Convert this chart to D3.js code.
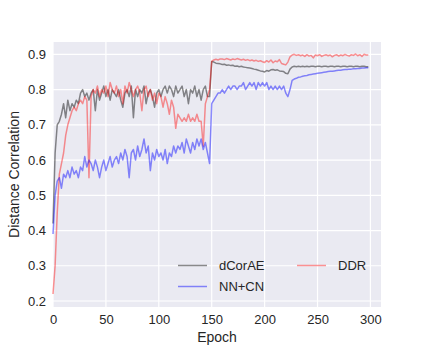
<!DOCTYPE html>
<html>
<head>
<meta charset="utf-8">
<script src="https://cdn.jsdelivr.net/npm/d3@7"></script>
<style>
  body { margin: 0; background: #fff; }
  text { font-family: "Liberation Sans", Arial, sans-serif; fill: #262626; }
</style>
</head>
<body>
<script>
// one value every 2 epochs (0, 2, ..., 298)
var epochStep = 2;

var dcorae = [
  0.42, 0.62, 0.70, 0.71, 0.73, 0.76, 0.72, 0.77, 0.74, 0.76,
  0.75, 0.77, 0.76, 0.79, 0.80, 0.78, 0.79, 0.77, 0.79, 0.80,
  0.74, 0.80, 0.77, 0.79, 0.81, 0.78, 0.80, 0.77, 0.80, 0.79,
  0.78, 0.80, 0.77, 0.75, 0.79, 0.80, 0.78, 0.81, 0.72, 0.80,
  0.78, 0.80, 0.79, 0.81, 0.76, 0.79, 0.80, 0.78, 0.75, 0.79,
  0.80, 0.78, 0.80, 0.81, 0.79, 0.81, 0.80, 0.78, 0.81, 0.79,
  0.80, 0.81, 0.78, 0.80, 0.76, 0.80, 0.79, 0.81, 0.78, 0.80,
  0.77, 0.80, 0.81, 0.78, 0.78, 0.880, 0.878, 0.875, 0.874, 0.873,
  0.871, 0.872, 0.869, 0.870, 0.868, 0.869, 0.866, 0.867, 0.865, 0.866,
  0.864, 0.863, 0.862, 0.861, 0.860, 0.858, 0.857, 0.855, 0.853, 0.852,
  0.850, 0.854, 0.852, 0.856, 0.857, 0.855, 0.856, 0.853, 0.852, 0.851,
  0.846, 0.845, 0.858, 0.864, 0.866, 0.865, 0.866, 0.865, 0.866, 0.865,
  0.866, 0.865, 0.866, 0.866, 0.865, 0.866, 0.866, 0.865, 0.866, 0.866,
  0.865, 0.866, 0.866, 0.865, 0.866, 0.866, 0.865, 0.866, 0.866, 0.865,
  0.866, 0.866, 0.865, 0.866, 0.866, 0.865, 0.866, 0.866, 0.865, 0.865
];

var ddr = [
  0.22, 0.30, 0.45, 0.56, 0.59, 0.62, 0.67, 0.70, 0.72, 0.74,
  0.75, 0.74, 0.76, 0.77, 0.76, 0.78, 0.77, 0.55, 0.78, 0.80,
  0.79, 0.81, 0.78, 0.80, 0.79, 0.81, 0.78, 0.82, 0.80, 0.79,
  0.81, 0.78, 0.80, 0.76, 0.81, 0.79, 0.82, 0.80, 0.78, 0.80,
  0.81, 0.79, 0.74, 0.80, 0.81, 0.78, 0.80, 0.77, 0.79, 0.76,
  0.79, 0.78, 0.75, 0.78, 0.76, 0.73, 0.77, 0.75, 0.69, 0.73,
  0.72, 0.71, 0.72, 0.71, 0.73, 0.71, 0.72, 0.71, 0.73, 0.71,
  0.71, 0.64, 0.76, 0.78, 0.80, 0.880, 0.884, 0.886, 0.884, 0.887,
  0.887, 0.885, 0.888, 0.886, 0.884, 0.887, 0.885, 0.888, 0.886, 0.884,
  0.886, 0.883, 0.885, 0.882, 0.884, 0.881, 0.883, 0.880, 0.882, 0.879,
  0.877, 0.882, 0.878, 0.884, 0.876, 0.881, 0.879, 0.885, 0.874, 0.872,
  0.870, 0.878, 0.893, 0.898, 0.900, 0.897, 0.899, 0.896, 0.898, 0.894,
  0.899, 0.895, 0.897, 0.890, 0.898, 0.896, 0.899, 0.894, 0.897, 0.899,
  0.896, 0.898, 0.893, 0.897, 0.899, 0.895, 0.898, 0.896, 0.900, 0.897,
  0.895, 0.899, 0.897, 0.901, 0.896, 0.899, 0.894, 0.900, 0.898, 0.898
];

var nncn = [
  0.39, 0.50, 0.54, 0.55, 0.52, 0.56, 0.55, 0.57, 0.55, 0.58,
  0.56, 0.57, 0.55, 0.58, 0.57, 0.61, 0.58, 0.60, 0.59, 0.57,
  0.60, 0.58, 0.55, 0.58, 0.60, 0.57, 0.59, 0.61, 0.58, 0.60,
  0.61, 0.59, 0.62, 0.60, 0.63, 0.61, 0.55, 0.62, 0.63, 0.60,
  0.64, 0.61, 0.63, 0.66, 0.62, 0.64, 0.57, 0.62, 0.60, 0.63,
  0.61, 0.62, 0.60, 0.63, 0.59, 0.62, 0.61, 0.64, 0.62, 0.64,
  0.63, 0.65, 0.62, 0.66, 0.64, 0.62, 0.65, 0.63, 0.66, 0.64,
  0.66, 0.63, 0.65, 0.62, 0.59, 0.76, 0.77, 0.78, 0.79, 0.79,
  0.80, 0.79, 0.80, 0.81, 0.80, 0.81, 0.81, 0.80, 0.81, 0.81,
  0.82, 0.80, 0.81, 0.82, 0.81, 0.82, 0.80, 0.82, 0.81, 0.82,
  0.81, 0.82, 0.80, 0.81, 0.80, 0.81, 0.80, 0.81, 0.80, 0.81,
  0.79, 0.78, 0.80, 0.826, 0.830, 0.832, 0.835, 0.836, 0.838, 0.839,
  0.840, 0.842, 0.843, 0.844, 0.845, 0.846, 0.847, 0.848, 0.849, 0.850,
  0.851, 0.852, 0.852, 0.853, 0.854, 0.855, 0.855, 0.856, 0.857, 0.857,
  0.858, 0.858, 0.859, 0.859, 0.860, 0.860, 0.861, 0.861, 0.862, 0.862
];

var xTicks = [0, 50, 100, 150, 200, 250, 300];
var yTicks = [0.2, 0.3, 0.4, 0.5, 0.6, 0.7, 0.8, 0.9];

var series = [
  { name: "dCorAE", values: dcorae, color: "#000", opacity: 0.45 },
  { name: "DDR",    values: ddr,    color: "#f00", opacity: 0.42 },
  { name: "NN+CN",  values: nncn,   color: "#00f", opacity: 0.45 }
];

var width = 423, height = 351;
var margin = { left: 53, right: 42, top: 42, bottom: 44 };

var svg = d3.select("body").append("svg")
    .attr("width", width)
    .attr("height", height);

var x = d3.scaleLinear().domain([0, 310]).range([margin.left, width - margin.right]);
var y = d3.scaleLinear().domain([0.183, 0.935]).range([height - margin.bottom, margin.top]);

svg.append("rect")
   .attr("x", margin.left).attr("y", margin.top)
   .attr("width", width - margin.left - margin.right)
   .attr("height", height - margin.top - margin.bottom)
   .attr("fill", "#eaeaf2");

// grid
svg.append("g").selectAll("line").data(xTicks).enter().append("line")
   .attr("x1", function(d) { return x(d); }).attr("x2", function(d) { return x(d); })
   .attr("y1", margin.top).attr("y2", height - margin.bottom)
   .attr("stroke", "#fff").attr("stroke-width", 1.2);
svg.append("g").selectAll("line").data(yTicks).enter().append("line")
   .attr("y1", function(d) { return y(d); }).attr("y2", function(d) { return y(d); })
   .attr("x1", margin.left).attr("x2", width - margin.right)
   .attr("stroke", "#fff").attr("stroke-width", 1.2);

// axes (labels only, seaborn darkgrid look)
var xAxis = svg.append("g")
   .attr("transform", "translate(0," + (height - margin.bottom) + ")")
   .call(d3.axisBottom(x).tickValues(xTicks).tickSize(0).tickPadding(8));
var yAxis = svg.append("g")
   .attr("transform", "translate(" + margin.left + ",0)")
   .call(d3.axisLeft(y).tickValues(yTicks).tickFormat(d3.format(".1f")).tickSize(0).tickPadding(7));
[xAxis, yAxis].forEach(function(a) {
  a.select(".domain").remove();
  a.selectAll("text").attr("font-size", 13).attr("fill", "#262626")
   .attr("font-family", "Liberation Sans, Arial, sans-serif");
});

var line = d3.line()
   .x(function(d, i) { return x(i * epochStep); })
   .y(function(d) { return y(d); });

svg.append("g").selectAll("path").data(series).enter().append("path")
   .attr("d", function(s) { return line(s.values); })
   .attr("fill", "none")
   .attr("stroke", function(s) { return s.color; })
   .attr("stroke-opacity", function(s) { return s.opacity; })
   .attr("stroke-width", 1.5)
   .attr("stroke-linejoin", "round");

svg.append("text")
   .attr("x", (margin.left + width - margin.right) / 2)
   .attr("y", 342)
   .attr("text-anchor", "middle")
   .attr("font-size", 14)
   .text("Epoch");

svg.append("text")
   .attr("transform", "translate(19," + ((margin.top + height - margin.bottom) / 2) + ") rotate(-90)")
   .attr("text-anchor", "middle")
   .attr("font-size", 14)
   .text("Distance Correlation");

// legend, two columns
var legendPos = [[178, 265.5], [297, 265.5], [178, 286.5]];
var leg = svg.append("g").selectAll("g").data(series).enter().append("g")
   .attr("transform", function(s, i) { return "translate(" + legendPos[i][0] + "," + legendPos[i][1] + ")"; });
leg.append("line")
   .attr("x1", 0).attr("x2", 29)
   .attr("stroke", function(s) { return s.color; })
   .attr("stroke-opacity", function(s) { return s.opacity; })
   .attr("stroke-width", 1.5);
leg.append("text")
   .attr("x", 41).attr("dy", "0.35em")
   .attr("font-size", 13)
   .text(function(s) { return s.name; });
</script>
</body>
</html>
